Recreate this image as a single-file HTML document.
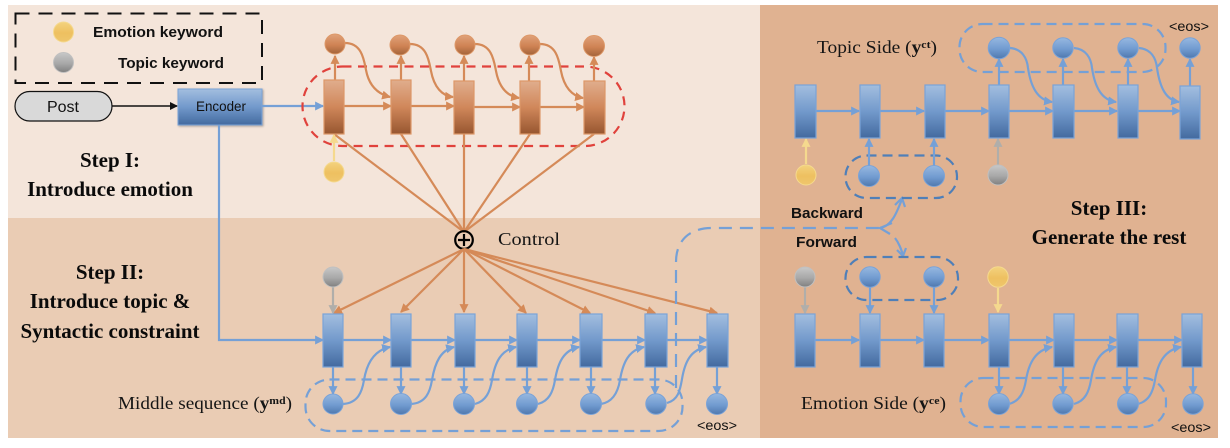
<!DOCTYPE html>
<html><head><meta charset="utf-8">
<style>
html,body{margin:0;padding:0;background:#fff;width:1230px;height:448px;overflow:hidden}
svg{display:block;position:absolute;left:0;top:0;filter:blur(.35px)}
.s{font-family:"Liberation Serif",serif;font-weight:bold;font-size:21px;fill:#0a0a0a;text-anchor:middle}
.r{font-family:"Liberation Serif",serif;font-size:18px;fill:#151515}
.k{font-family:"Liberation Sans",sans-serif;font-weight:bold;font-size:15px;fill:#111}
.n{font-family:"Liberation Sans",sans-serif;font-size:14px;fill:#111}
.o{fill:none;stroke:#d58a58;stroke-width:2.2}
.b{fill:none;stroke:#75a0d6;stroke-width:2.2}
.rb{fill:url(#gb);stroke:#7aa3d8;stroke-width:1.2}
.ro{fill:url(#go);stroke:#dd9868;stroke-width:1.2}
.cb{fill:url(#gb2);stroke:#7aa3d8;stroke-width:1}
.co{fill:url(#go2);stroke:#dd9868;stroke-width:1}
.cg{fill:url(#gg);stroke:#c0c0c0;stroke-width:1}
.cy{fill:url(#gy);stroke:#f5d98e;stroke-width:1}
.d{fill:none;stroke:#75a0d6;stroke-width:2.2;stroke-dasharray:10 6}
.dd{fill:none;stroke:#4f7fb8;stroke-width:2.2;stroke-dasharray:10 6}
</style></head><body>
<svg width="1230" height="448" viewBox="0 0 1230 448" xmlns="http://www.w3.org/2000/svg">
<defs>
<linearGradient id="gb" x1="0" y1="0" x2="0" y2="1"><stop offset="0" stop-color="#a3bedf"/><stop offset=".5" stop-color="#7299cb"/><stop offset="1" stop-color="#436a9f"/></linearGradient>
<linearGradient id="go" x1="0" y1="0" x2="0" y2="1"><stop offset="0" stop-color="#e0ad8d"/><stop offset=".5" stop-color="#d0875a"/><stop offset="1" stop-color="#975630"/></linearGradient>
<linearGradient id="gb2" x1="0" y1="0" x2="0" y2="1"><stop offset="0" stop-color="#97b8e0"/><stop offset=".55" stop-color="#719bd0"/><stop offset="1" stop-color="#4f78ae"/></linearGradient>
<linearGradient id="go2" x1="0" y1="0" x2="0" y2="1"><stop offset="0" stop-color="#e0a27a"/><stop offset=".55" stop-color="#cf8354"/><stop offset="1" stop-color="#a3643a"/></linearGradient>
<linearGradient id="gg" x1="0" y1="0" x2="0" y2="1"><stop offset="0" stop-color="#c8c8c8"/><stop offset=".55" stop-color="#a8a8a8"/><stop offset="1" stop-color="#808080"/></linearGradient>
<linearGradient id="gy" x1="0" y1="0" x2="0" y2="1"><stop offset="0" stop-color="#f3d27e"/><stop offset=".55" stop-color="#eec060"/><stop offset="1" stop-color="#efc66c"/></linearGradient>
<marker id="mo" viewBox="0 0 8 8" refX="7" refY="4" markerWidth="9" markerHeight="9" markerUnits="userSpaceOnUse" orient="auto"><path d="M0 0L8 4L0 8z" fill="#d58a58"/></marker>
<marker id="mb" viewBox="0 0 8 8" refX="7" refY="4" markerWidth="9" markerHeight="9" markerUnits="userSpaceOnUse" orient="auto"><path d="M0 0L8 4L0 8z" fill="#75a0d6"/></marker>
<marker id="mg" viewBox="0 0 8 8" refX="7" refY="4" markerWidth="9" markerHeight="9" markerUnits="userSpaceOnUse" orient="auto"><path d="M0 0L8 4L0 8z" fill="#b0aeaa"/></marker>
<marker id="my" viewBox="0 0 8 8" refX="7" refY="4" markerWidth="9" markerHeight="9" markerUnits="userSpaceOnUse" orient="auto"><path d="M0 0L8 4L0 8z" fill="#f5d98e"/></marker>
<marker id="mk" viewBox="0 0 8 8" refX="7" refY="4" markerWidth="8" markerHeight="8" markerUnits="userSpaceOnUse" orient="auto"><path d="M0 0L8 4L0 8z" fill="#111"/></marker>
<filter id="sh" x="-10%" y="-10%" width="125%" height="130%"><feDropShadow dx="1" dy="1" stdDeviation="1" flood-color="#000" flood-opacity=".3"/></filter>
</defs>

<!-- panels -->
<rect x="8" y="5" width="752" height="213" fill="#f4e5da"/>
<rect x="8" y="218" width="752" height="220" fill="#eaccb4"/>
<rect x="760" y="5" width="458" height="433" fill="#e0b291"/>

<!-- legend -->
<rect x="15.5" y="13.5" width="246.5" height="69.5" fill="none" stroke="#111" stroke-width="2" stroke-dasharray="14 9"/>
<circle cx="63.5" cy="32" r="10" class="cy"/>
<circle cx="63.5" cy="62.5" r="10" class="cg"/>
<text x="93" y="37" class="k" textLength="130" lengthAdjust="spacingAndGlyphs">Emotion keyword</text>
<text x="118" y="68" class="k" textLength="106" lengthAdjust="spacingAndGlyphs">Topic keyword</text>

<!-- post / encoder -->
<rect x="15" y="91.5" width="97" height="29.5" rx="14.7" fill="#d9d9d9" stroke="#111" stroke-width="1.2"/>
<text x="63" y="112" class="n" style="font-size:16px" text-anchor="middle">Post</text>
<path d="M112 106H177" fill="none" stroke="#111" stroke-width="1.6" marker-end="url(#mk)"/>
<rect x="178" y="89" width="84" height="36" fill="url(#gb)" stroke="#7aa3d8" filter="url(#sh)"/>
<text x="221" y="111" class="n" text-anchor="middle" textLength="50" lengthAdjust="spacingAndGlyphs">Encoder</text>
<path d="M262 106H323" class="b" marker-end="url(#mb)"/>
<path d="M219 125V340H323" class="b" marker-end="url(#mb)"/>

<!-- step labels -->
<text x="110" y="167" class="s">Step I:</text>
<text x="110" y="196" class="s">Introduce emotion</text>
<text x="110" y="279" class="s">Step II:</text>
<text x="110" y="308" class="s">Introduce topic &amp;</text>
<text x="110" y="338" class="s">Syntactic constraint</text>
<text x="1109" y="215" class="s">Step III:</text>
<text x="1109" y="244" class="s">Generate the rest</text>

<!-- red dashed pill -->
<rect x="302.5" y="66.5" width="322" height="79.5" rx="40" fill="none" stroke="#e0423c" stroke-width="2.2" stroke-dasharray="9 6.5"/>

<!-- top orange: fan -->
<g class="o">
<path d="M334 134L464 232"/><path d="M401 134L464 232"/><path d="M464 134V232"/><path d="M530 134L464 232"/><path d="M594 134L464 232"/>
</g>
<!-- orange chain -->
<g class="o">
<path d="M344 106H391" marker-end="url(#mo)"/><path d="M411 106H454" marker-end="url(#mo)"/><path d="M474 107H520" marker-end="url(#mo)"/><path d="M540 107H584" marker-end="url(#mo)"/>
<path d="M335 80V56" marker-end="url(#mo)"/><path d="M401 80V56" marker-end="url(#mo)"/><path d="M464 81V56" marker-end="url(#mo)"/><path d="M529 81V56" marker-end="url(#mo)"/><path d="M594 81V57" marker-end="url(#mo)"/>
<path d="M345 43c17 0 19 17 21 27c3 16 12 24 24 27" marker-end="url(#mo)"/>
<path d="M410 44c17 0 19 17 21 27c3 16 11 25 22 26" marker-end="url(#mo)"/>
<path d="M475 44c17 0 19 17 21 27c3 16 11 25 23 27" marker-end="url(#mo)"/>
<path d="M540 44c17 0 19 17 21 27c3 16 11 25 22 27" marker-end="url(#mo)"/>
</g>
<rect x="324" y="80" width="20" height="54" class="ro"/>
<rect x="391" y="80" width="20" height="54" class="ro"/>
<rect x="454" y="81" width="20" height="53" class="ro"/>
<rect x="520" y="81" width="20" height="53" class="ro"/>
<rect x="584" y="81" width="21" height="53" class="ro"/>
<circle cx="335" cy="44" r="10" class="co"/><circle cx="400" cy="45" r="10" class="co"/><circle cx="465" cy="45" r="10" class="co"/><circle cx="530" cy="45" r="10" class="co"/><circle cx="594" cy="46" r="10.5" class="co"/>
<path d="M334 161V135" fill="none" stroke="#f5d98e" stroke-width="2.2" marker-end="url(#my)"/>
<circle cx="334" cy="172" r="10" class="cy"/>

<!-- control -->
<circle cx="464" cy="240" r="8.8" fill="none" stroke="#000" stroke-width="2.2"/>
<path d="M458 240H470M464 234V246" stroke="#000" stroke-width="2.2"/>
<text x="498" y="245" class="r" textLength="62" lengthAdjust="spacingAndGlyphs">Control</text>

<!-- lower fan -->
<g class="o">
<path d="M464 249L334 313" marker-end="url(#mo)"/><path d="M464 249L401 312" marker-end="url(#mo)"/><path d="M464 249V312" marker-end="url(#mo)"/><path d="M464 249L526 313" marker-end="url(#mo)"/><path d="M464 249L590 313" marker-end="url(#mo)"/><path d="M464 249L655 313" marker-end="url(#mo)"/><path d="M464 249L717 313" marker-end="url(#mo)"/>
</g>

<!-- long dashed -->
<path d="M676 388V262C676 240 690 228 712 228H880" class="d" style="stroke-dasharray:13 8"/>
<path d="M880 228C892 226 897 212 902 199" fill="none" stroke="#75a0d6" stroke-width="2.2"/>
<path d="M892 223L880 228L890 234" fill="none" stroke="#75a0d6" stroke-width="2.2"/>
<path d="M895 205L902 198L905 207" fill="none" stroke="#75a0d6" stroke-width="2.2"/>
<path d="M895 238C899 243 901 249 903 255" fill="none" stroke="#75a0d6" stroke-width="2.2"/>
<path d="M897 250L903 256L906 248" fill="none" stroke="#75a0d6" stroke-width="2.2"/>

<text x="791" y="218" class="k" textLength="72" lengthAdjust="spacingAndGlyphs">Backward</text>
<text x="796" y="247" class="k" textLength="61" lengthAdjust="spacingAndGlyphs">Forward</text>

<!-- middle sequence -->
<rect x="305.5" y="379.5" width="377" height="51.5" rx="24" class="d"/>
<path d="M333 287V313" fill="none" stroke="#b0aeaa" stroke-width="2.2" marker-end="url(#mg)"/>
<circle cx="333" cy="277" r="10" class="cg"/>
<g class="b">
<path d="M343 340H391" marker-end="url(#mb)"/><path d="M411 340H455" marker-end="url(#mb)"/><path d="M475 340H517" marker-end="url(#mb)"/><path d="M537 340H580" marker-end="url(#mb)"/><path d="M602 340H645" marker-end="url(#mb)"/><path d="M667 340H707" marker-end="url(#mb)"/>
<path d="M333 367V394" marker-end="url(#mb)"/><path d="M401 367V394" marker-end="url(#mb)"/><path d="M464 367V394" marker-end="url(#mb)"/><path d="M527 367V394" marker-end="url(#mb)"/><path d="M591 367V394" marker-end="url(#mb)"/><path d="M655 367V394" marker-end="url(#mb)"/><path d="M717 367V394" marker-end="url(#mb)"/>
<path d="M343 404c15-1 19-12 21-24c3-18 11-30 26-33" marker-end="url(#mb)"/>
<path d="M411 404c15-1 19-12 21-24c3-18 9-30 22-33" marker-end="url(#mb)"/>
<path d="M475 404c11-3 15-12 17-24c3-18 9-30 24-33" marker-end="url(#mb)"/>
<path d="M538 404c11-3 15-12 17-24c3-18 9-30 24-33" marker-end="url(#mb)"/>
<path d="M601 404c12-2 17-12 19-24c3-18 9-30 24-33" marker-end="url(#mb)"/>
<path d="M667 403c11-3 13-12 15-24c3-18 9-29 24-32" marker-end="url(#mb)"/>
</g>
<rect x="323" y="314" width="20" height="53" class="rb"/><rect x="391" y="314" width="20" height="53" class="rb"/><rect x="455" y="314" width="20" height="53" class="rb"/><rect x="517" y="314" width="20" height="53" class="rb"/><rect x="580" y="314" width="22" height="53" class="rb"/><rect x="645" y="314" width="22" height="53" class="rb"/><rect x="707" y="314" width="21" height="53" class="rb"/>
<circle cx="333" cy="404" r="10" class="cb"/><circle cx="401" cy="404" r="10.5" class="cb"/><circle cx="464" cy="404" r="10.5" class="cb"/><circle cx="527" cy="404" r="10.5" class="cb"/><circle cx="591" cy="404" r="10.5" class="cb"/><circle cx="656" cy="404" r="10.2" class="cb"/><circle cx="717" cy="404" r="10.5" class="cb"/>
<text x="717" y="430" class="n" text-anchor="middle" textLength="40" lengthAdjust="spacingAndGlyphs">&lt;eos&gt;</text>
<text x="118" y="409" class="r" textLength="174" lengthAdjust="spacingAndGlyphs">Middle sequence (<tspan font-weight="bold">y</tspan><tspan font-weight="bold" font-size="11" dy="-5">md</tspan><tspan dy="5">)</tspan></text>

<!-- topic side -->
<text x="817" y="53" class="r" textLength="120" lengthAdjust="spacingAndGlyphs">Topic Side (<tspan font-weight="bold">y</tspan><tspan font-weight="bold" font-size="11" dy="-5">ct</tspan><tspan dy="5">)</tspan></text>
<rect x="959.5" y="24" width="206" height="48" rx="23" class="d"/>
<rect x="845.5" y="155.5" width="111.5" height="42.5" rx="21" class="dd"/>
<g class="b">
<path d="M816 111H859" marker-end="url(#mb)"/><path d="M880 111H924" marker-end="url(#mb)"/><path d="M945 111H989" marker-end="url(#mb)"/><path d="M1009 111H1053" marker-end="url(#mb)"/><path d="M1074 111H1117" marker-end="url(#mb)"/><path d="M1138 111H1180" marker-end="url(#mb)"/>
<path d="M999 85V59" marker-end="url(#mb)"/><path d="M1063 85V59" marker-end="url(#mb)"/><path d="M1128 85V59" marker-end="url(#mb)"/><path d="M1190 86V59" marker-end="url(#mb)"/>
<path d="M1010 48c12 1 17 10 18 20c3 20 10 32 24 34" marker-end="url(#mb)"/>
<path d="M1074 48c12 1 17 10 18 20c3 20 10 32 24 34" marker-end="url(#mb)"/>
<path d="M1139 48c12 1 17 10 18 20c3 20 9 32 22 34" marker-end="url(#mb)"/>
<path d="M869 166V139" marker-end="url(#mb)"/><path d="M934 166V139" marker-end="url(#mb)"/>
</g>
<path d="M806 164V139" fill="none" stroke="#f5d98e" stroke-width="2.2" marker-end="url(#my)"/>
<path d="M998 165V139" fill="none" stroke="#b0aeaa" stroke-width="2.2" marker-end="url(#mg)"/>
<rect x="795" y="85" width="21" height="53" class="rb"/><rect x="860" y="85" width="20" height="53" class="rb"/><rect x="925" y="85" width="20" height="53" class="rb"/><rect x="989" y="85" width="20" height="53" class="rb"/><rect x="1053" y="85" width="21" height="53" class="rb"/><rect x="1118" y="85" width="20" height="53" class="rb"/><rect x="1180" y="86" width="20" height="53" class="rb"/>
<circle cx="999" cy="48" r="10.8" class="cb"/><circle cx="1063" cy="48" r="10.2" class="cb"/><circle cx="1128" cy="48" r="10.2" class="cb"/><circle cx="1190" cy="48" r="10.2" class="cb"/>
<circle cx="806" cy="175" r="10" class="cy"/><circle cx="869" cy="176" r="10.5" class="cb"/><circle cx="934" cy="176" r="10.5" class="cb"/><circle cx="998" cy="175" r="10" class="cg"/>
<text x="1189" y="31" class="n" text-anchor="middle" textLength="40" lengthAdjust="spacingAndGlyphs">&lt;eos&gt;</text>

<!-- emotion side -->
<rect x="845.5" y="257" width="112.5" height="43" rx="21" class="dd"/>
<rect x="960.5" y="378" width="205.5" height="49" rx="23" class="d"/>
<path d="M805 287V313" fill="none" stroke="#b0aeaa" stroke-width="2.2" marker-end="url(#mg)"/>
<path d="M998 288V312" fill="none" stroke="#f5d98e" stroke-width="2.2" marker-end="url(#my)"/>
<g class="b">
<path d="M870 287V313" marker-end="url(#mb)"/><path d="M934 287V313" marker-end="url(#mb)"/>
<path d="M815 340H859" marker-end="url(#mb)"/><path d="M880 340H924" marker-end="url(#mb)"/><path d="M944 340H989" marker-end="url(#mb)"/><path d="M1009 340H1054" marker-end="url(#mb)"/><path d="M1074 340H1117" marker-end="url(#mb)"/><path d="M1138 340H1182" marker-end="url(#mb)"/>
<path d="M999 367V394" marker-end="url(#mb)"/><path d="M1063 367V394" marker-end="url(#mb)"/><path d="M1127 367V394" marker-end="url(#mb)"/><path d="M1193 367V394" marker-end="url(#mb)"/>
<path d="M1009 404c11-3 15-12 17-24c3-18 10-30 26-33" marker-end="url(#mb)"/>
<path d="M1074 404c11-3 15-12 17-24c3-18 9-30 25-33" marker-end="url(#mb)"/>
<path d="M1138 404c11-3 15-12 17-24c3-18 10-30 26-33" marker-end="url(#mb)"/>
</g>
<rect x="795" y="314" width="20" height="53" class="rb"/><rect x="860" y="314" width="20" height="53" class="rb"/><rect x="924" y="314" width="20" height="53" class="rb"/><rect x="989" y="314" width="20" height="53" class="rb"/><rect x="1054" y="314" width="20" height="53" class="rb"/><rect x="1117" y="314" width="21" height="53" class="rb"/><rect x="1182" y="314" width="20" height="53" class="rb"/>
<circle cx="805" cy="277" r="10" class="cg"/><circle cx="870" cy="277" r="10.2" class="cb"/><circle cx="934" cy="277" r="10.2" class="cb"/><circle cx="998" cy="277" r="10.2" class="cy"/>
<circle cx="999" cy="404" r="10.5" class="cb"/><circle cx="1063" cy="404" r="10.2" class="cb"/><circle cx="1128" cy="404" r="10.5" class="cb"/><circle cx="1193" cy="404" r="10.2" class="cb"/>
<text x="801" y="409" class="r" textLength="145" lengthAdjust="spacingAndGlyphs">Emotion Side (<tspan font-weight="bold">y</tspan><tspan font-weight="bold" font-size="11" dy="-5">ce</tspan><tspan dy="5">)</tspan></text>
<text x="1191" y="432" class="n" text-anchor="middle" textLength="40" lengthAdjust="spacingAndGlyphs">&lt;eos&gt;</text>
</svg>
</body></html>
